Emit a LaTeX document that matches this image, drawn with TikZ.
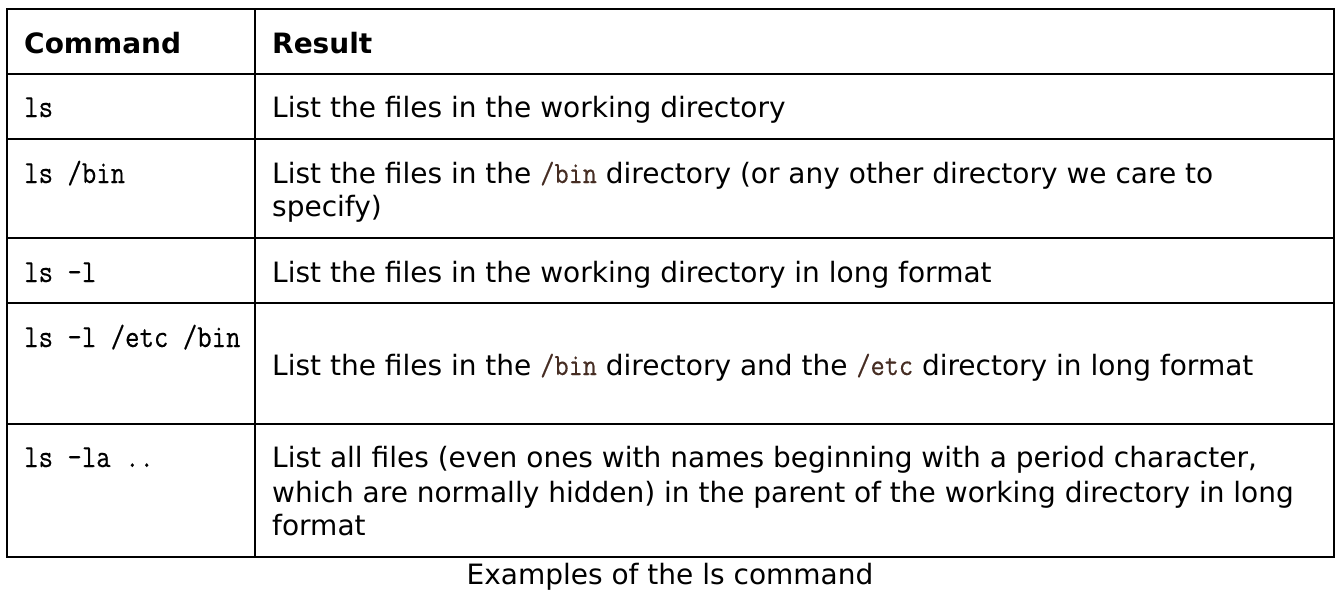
\documentclass[tikz,border=0pt]{standalone}
\usepackage{fontspec}
\setmainfont{DejaVu Sans}
\newfontfamily\codefont[FakeBold=0.4]{Latin Modern Mono}
\definecolor{inlinecode}{RGB}{70,45,35}
\newcommand{\icode}[1]{{\fontsize{27.5}{33}\codefont\color{inlinecode}\scalebox{1}[1.12]{#1}}}
\newcommand{\cmdtext}[1]{\scalebox{1}[1.15]{#1}}
\tikzset{
  grid/.style={draw=black, line width=1.3pt},
  txt/.style={anchor=base west, inner sep=0pt, font=\fontsize{28}{33}\selectfont},
  hdr/.style={anchor=base west, inner sep=0pt, font=\fontsize{28}{33}\selectfont\bfseries},
  cmd/.style={anchor=base west, inner sep=0pt, font=\fontsize{28}{33}\codefont},
  captxt/.style={anchor=base, inner sep=0pt, font=\fontsize{28}{33}\selectfont},
}
\begin{document}
\begin{tikzpicture}[x=1pt,y=-1pt]
\useasboundingbox (0,0) rectangle (1340,589);
% table grid
\draw[grid] (7,9) rectangle (1334,557);
\draw[grid] (255,9) -- (255,557);
\foreach \yy in {74,139,238,303,424} \draw[grid] (7,\yy) -- (1334,\yy);
% header
\node[hdr] (h1) at (24,53) {Command};
\node[hdr] (h2) at (272,53) {Result};
% row 1
\node[cmd] (c1) at (24,117) {\cmdtext{ls}};
\node[txt] (r1) at (272,117) {List the files in the working directory};
% row 2
\node[cmd] (c2) at (24,183) {\cmdtext{ls /bin}};
\node[txt] (r2a) at (272,183) {List the files in the \icode{/bin} directory (or any other directory we care to};
\node[txt] (r2b) at (272,216) {specify)};
% row 3
\node[cmd] (c3) at (24,282) {\cmdtext{ls -l}};
\node[txt] (r3) at (272,282) {List the files in the working directory in long format};
% row 4
\node[cmd] (c4) at (24,347) {\cmdtext{ls -l /etc /bin}};
\node[txt] (r4) at (272,375) {List the files in the \icode{/bin} directory and the \icode{/etc} directory in long format};
% row 5
\node[cmd] (c5) at (24,467) {\cmdtext{ls -la ..}};
\node[txt] (r5a) at (272,467) {List all files (even ones with names beginning with a period character,};
\node[txt] (r5b) at (272,502) {which are normally hidden) in the parent of the working directory in long};
\node[txt] (r5c) at (272,535) {format};
% caption
\node[captxt] (caption) at (670,584) {Examples of the ls command};
\end{tikzpicture}
\end{document}
